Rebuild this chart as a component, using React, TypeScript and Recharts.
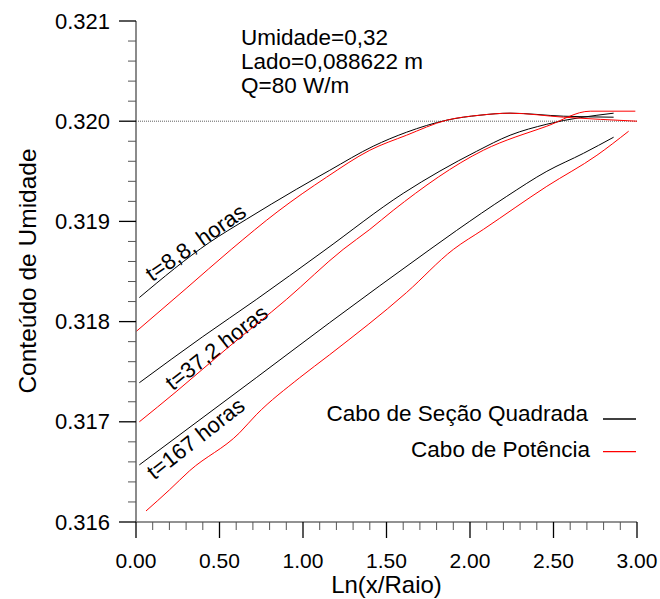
import React from "react"
import { LineChart, Line, XAxis, YAxis, ReferenceLine, Legend } from "recharts"

// Ln(x/Raio) ticks (major every 0.5, minor every 0.1)
const xTicks = [0, 0.1, 0.2, 0.3, 0.4, 0.5, 0.6, 0.7, 0.8, 0.9, 1.0, 1.1, 1.2, 1.3, 1.4, 1.5, 1.6, 1.7, 1.8, 1.9, 2.0, 2.1, 2.2, 2.3, 2.4, 2.5, 2.6, 2.7, 2.8, 2.9, 3.0]
const yTicks = [0.316, 0.3162, 0.3164, 0.3166, 0.3168, 0.317, 0.3172, 0.3174, 0.3176, 0.3178, 0.318, 0.3182, 0.3184, 0.3186, 0.3188, 0.319, 0.3192, 0.3194, 0.3196, 0.3198, 0.32, 0.3202, 0.3204, 0.3206, 0.3208, 0.321]

// Cabo de Seção Quadrada (black)
const quadX88 = [0.02, 0.44, 0.66, 0.96, 1.16, 1.42, 1.62, 1.86, 2.06, 2.24, 2.56, 2.86]
const quadY88 = [0.31824, 0.31879, 0.31902, 0.31932, 0.31951, 0.31975, 0.31989, 0.32001, 0.32006, 0.32008, 0.32005, 0.32004]
const quadX372 = [0.02, 0.4, 0.72, 1.12, 1.6, 2.04, 2.24, 2.46, 2.86]
const quadY372 = [0.31739, 0.31785, 0.31822, 0.3187, 0.31928, 0.3197, 0.31986, 0.31997, 0.32008]
const quadX167 = [0.02, 0.72, 1.16, 1.76, 1.92, 2.22, 2.46, 2.68, 2.86]
const quadY167 = [0.31657, 0.31744, 0.31799, 0.31872, 0.31891, 0.31925, 0.3195, 0.31968, 0.31984]

// Cabo de Potência (red)
const potX88 = [0, 0.3, 0.57, 0.85, 1.14, 1.4, 1.62, 1.86, 2.06, 2.24, 2.56, 3.0]
const potY88 = [0.3179, 0.31833, 0.31872, 0.3191, 0.31944, 0.31971, 0.31986, 0.32001, 0.32006, 0.32008, 0.32004, 0.32]
const potX372 = [0.02, 0.24, 0.55, 0.9, 1.24, 1.4, 1.54, 2.08, 2.46, 2.72, 2.99]
const potY372 = [0.317, 0.3173, 0.31774, 0.31822, 0.31872, 0.31892, 0.31911, 0.31971, 0.31995, 0.3201, 0.3201]
const potX167 = [0.06, 0.2, 0.32, 0.62, 0.72, 0.98, 1.16, 1.62, 1.9, 2.08, 2.46, 2.76, 2.95]
const potY167 = [0.31611, 0.31632, 0.31651, 0.31689, 0.31707, 0.31744, 0.31767, 0.31829, 0.31872, 0.31892, 0.31935, 0.31966, 0.3199]

const pairs = (xs: number[], ys: number[]) => xs.map((x, i) => ({ x, y: ys[i] }))

const series = [
  { name: "quad88", color: "#000000", data: pairs(quadX88, quadY88) },
  { name: "quad372", color: "#000000", data: pairs(quadX372, quadY372) },
  { name: "quad167", color: "#000000", data: pairs(quadX167, quadY167) },
  { name: "pot88", color: "#ff0000", data: pairs(potX88, potY88) },
  { name: "pot372", color: "#ff0000", data: pairs(potX372, potY372) },
  { name: "pot167", color: "#ff0000", data: pairs(potX167, potY167) },
]

const legendItems = [
  { label: "Cabo de Seção Quadrada", color: "#000000" },
  { label: "Cabo de Potência", color: "#ff0000" },
]

const FONT = "'Liberation Sans', Arial, sans-serif"

function XTick(props: any) {
  const { x, y, payload } = props
  const v = payload.value
  const major = Math.round(v * 10) % 5 === 0
  return (
    <g>
      <line x1={x} x2={x} y1={y} y2={y + (major ? 16 : 8)} stroke={major ? "#000" : "#555"} strokeWidth={major ? 1.3 : 1} />
      {major && (
        <text x={x} y={y + 45.5} textAnchor="middle" fontSize={21} fontFamily={FONT} fill="#000">
          {v.toFixed(2)}
        </text>
      )}
    </g>
  )
}

function YTick(props: any) {
  const { x, y, payload } = props
  const v = payload.value
  const major = Math.round(v * 10000) % 10 === 0
  return (
    <g>
      <line x1={x} x2={x - (major ? 17 : 8)} y1={y} y2={y} stroke={major ? "#000" : "#555"} strokeWidth={major ? 1.3 : 1} />
      {major && (
        <text x={x - 26} y={y + 7.6} textAnchor="end" fontSize={22} fontFamily={FONT} fill="#000">
          {v.toFixed(3)}
        </text>
      )}
    </g>
  )
}

function LegendBox() {
  return (
    <svg width={345} height={70} style={{ display: "block" }}>
      {legendItems.map((it, i) => (
        <g key={it.label}>
          <text x={i === 0 ? 288 : 290} y={i === 0 ? 26 : 62.3} textAnchor="end" fontSize={22.5} fontFamily={FONT} fill="#000">
            {it.label}
          </text>
          <line x1={303} x2={336} y1={i === 0 ? 24 : 56.7} y2={i === 0 ? 24 : 56.7} stroke={it.color} strokeWidth={1.3} />
        </g>
      ))}
    </svg>
  )
}

function Notes() {
  const t = { fontFamily: FONT, fill: "#000" }
  return (
    <g>
      <text x={241} y={45} fontSize={22.5} {...t}>Umidade=0,32</text>
      <text x={241} y={69} fontSize={22.5} {...t}>Lado=0,088622 m</text>
      <text x={241} y={93} fontSize={22.5} {...t}>Q=80 W/m</text>
      <text x={196} y={250} fontSize={22} textAnchor="middle" transform="rotate(-35 196 243)" {...t}>t=8,8, horas</text>
      <text x={217} y={355} fontSize={22} textAnchor="middle" transform="rotate(-38 217 348)" {...t}>t=37,2 horas</text>
      <text x={196} y={446} fontSize={22} textAnchor="middle" transform="rotate(-38 196 439)" {...t}>t=167 horas</text>
      <text x={27} y={271} fontSize={24.5} textAnchor="middle" transform="rotate(-90 27 271)" dy="0.35em" {...t}>Conteúdo de Umidade</text>
      <text x={386.5} y={593.3} fontSize={24} textAnchor="middle" {...t}>Ln(x/Raio)</text>
    </g>
  )
}

export default function App() {
  return (
    <div style={{ position: "absolute", left: 0, top: 0, background: "#fff" }}>
      <LineChart width={660} height={599} margin={{ top: 21, right: 23, left: 0, bottom: 0 }}>
        <XAxis
          type="number"
          dataKey="x"
          domain={[0, 3]}
          ticks={xTicks}
          interval={0}
          height={77}
          tickSize={0}
          tickMargin={0}
          tick={<XTick />}
          axisLine={{ stroke: "#6e6e6e", strokeWidth: 1.6 }}
          allowDataOverflow
        />
        <YAxis
          type="number"
          dataKey="y"
          domain={[0.316, 0.321]}
          ticks={yTicks}
          interval={0}
          width={136}
          tickSize={0}
          tickMargin={0}
          tick={<YTick />}
          axisLine={{ stroke: "#6e6e6e", strokeWidth: 1.6 }}
          allowDataOverflow
        />
        <ReferenceLine y={0.32} stroke="#333" strokeWidth={0.8} strokeDasharray="1 1" />
        {series.map((s) => (
          <Line
            key={s.name}
            data={s.data}
            dataKey="y"
            type="monotone"
            stroke={s.color}
            strokeWidth={1}
            dot={false}
            isAnimationActive={false}
          />
        ))}
        <Legend
          layout="horizontal"
          verticalAlign="middle"
          align="center"
          content={() => <LegendBox />}
          wrapperStyle={{ position: "absolute", left: 300, top: 395, width: 345, height: 70 }}
        />
        <Notes />
      </LineChart>
    </div>
  )
}
